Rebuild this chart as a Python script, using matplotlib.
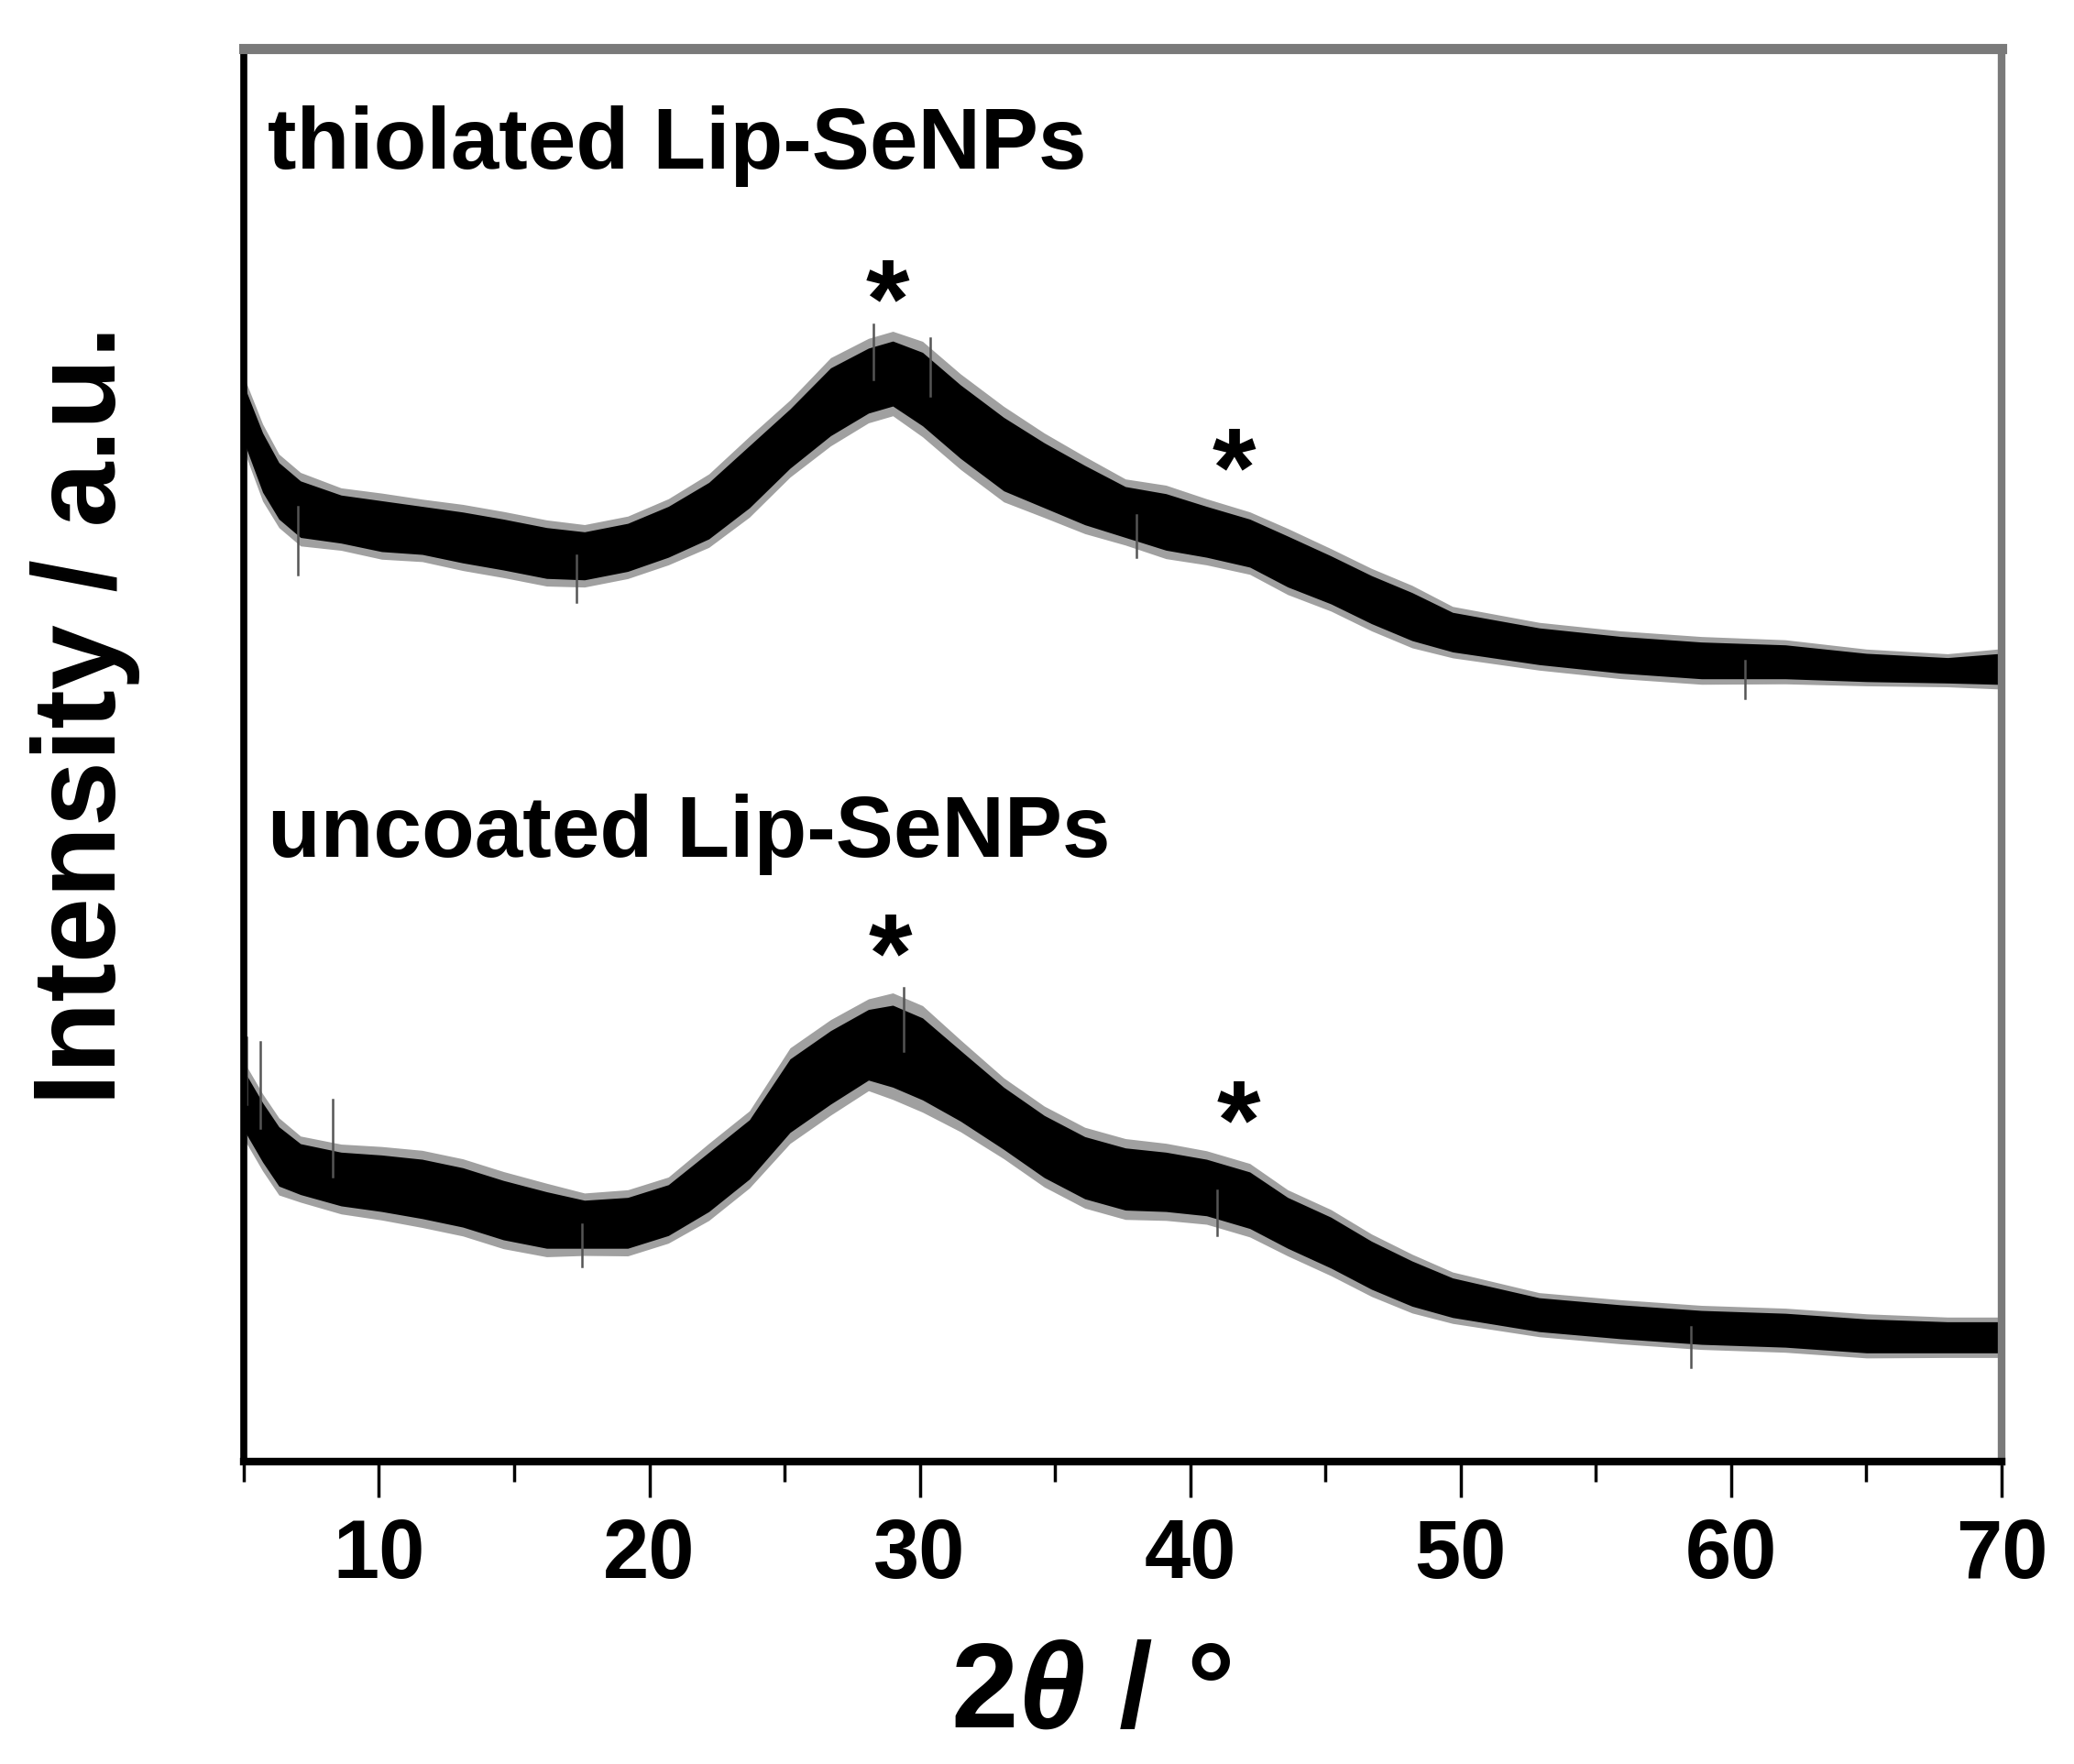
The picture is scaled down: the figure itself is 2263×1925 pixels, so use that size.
import numpy as np
import matplotlib
matplotlib.use('Agg')
import matplotlib.pyplot as plt
from matplotlib.ticker import MultipleLocator

plt.rcParams['font.family'] = ['Liberation Sans', 'DejaVu Sans']
plt.rcParams['font.weight'] = 'bold'
plt.rcParams['mathtext.fontset'] = 'custom'
plt.rcParams['mathtext.it'] = 'Liberation Sans:italic'

# --- data (2theta in degrees, intensity in arbitrary units)
two_theta = [5.0, 5.7, 6.3, 7.1, 8.6, 10.1, 11.6, 13.1, 14.6, 16.2,
             17.6, 19.2, 20.7, 22.2, 23.7, 25.2, 26.7, 28.1, 29.0, 30.1,
             31.5, 33.1, 34.6, 36.1, 37.6, 39.1, 40.6, 42.2, 43.6, 45.2,
             46.7, 48.2, 49.7, 52.9, 55.9, 58.9, 62.0, 65.0, 68.0, 70.0]

thiolated = [742, 707, 687, 674, 667, 662, 659, 654, 649, 643,
             641, 647, 658, 673, 697, 724, 750, 765, 770, 759,
             736, 713, 698, 684, 672, 665, 658, 650, 637, 624,
             610, 598, 587, 577, 571, 567, 566, 562, 560, 561]
thiolated_noise = [20, 21, 20, 20, 17, 18, 17, 18, 18, 18,
                   17, 17, 18, 20, 22, 21, 24, 23, 23, 26,
                   26, 26, 23, 21, 18, 20, 18, 17, 18, 17,
                   17, 17, 14, 13, 13, 13, 12, 10, 9, 11]

uncoated = [256, 233, 216, 207, 200, 197, 193, 187, 178, 171,
            168, 169, 178, 198, 221, 259, 279, 295, 294, 285,
            266, 243, 223, 208, 200, 198, 194, 185, 169, 155,
            139, 126, 116, 104, 99, 95, 93, 89, 88, 88]
uncoated_noise = [21, 21, 21, 18, 19, 20, 21, 21, 21, 20,
                  17, 18, 18, 21, 21, 26, 26, 25, 29, 29,
                  25, 22, 22, 22, 22, 21, 20, 20, 18, 18,
                  17, 16, 14, 12, 12, 12, 12, 12, 11, 11]

# single spikes sticking out of the noise band (2theta, tip intensity)
thiolated_spikes = [(5.05, 775), (7.0, 628), (17.3, 608), (28.3, 805),
                    (30.4, 795), (38.0, 640), (60.5, 540)]
uncoated_spikes = [(5.1, 300), (5.6, 297), (8.3, 256), (17.5, 138),
                   (29.4, 335), (41.0, 160), (58.5, 67)]

labels = ['thiolated Lip-SeNPs', 'uncoated Lip-SeNPs']
label_pos = [(5.9, 915), (5.9, 428)]
stars = [(28.8, 842), (41.6, 723), (28.9, 379), (41.8, 261)]

# --- figure
fig = plt.figure(figsize=(22.63, 19.25), dpi=100)
ax = fig.add_axes([0.1175, 0.1714, 0.8476, 0.8011])

x = np.array(two_theta)
series = [(thiolated, thiolated_noise, thiolated_spikes),
          (uncoated, uncoated_noise, uncoated_spikes)]
for y, n, spikes in series:
    y = np.array(y)
    n = np.array(n)
    ax.fill_between(x, y - 1.3 * n, y + 1.3 * n, color='#a0a0a0', lw=0)
    ax.fill_between(x, y - n, y + n, color='black', lw=0)
    for sx, tip in spikes:
        base = np.interp(sx, x, y)
        ax.plot([sx, sx], [base, tip], color='#555555', lw=1.8)

for (tx, ty), lab in zip(label_pos, labels):
    ax.text(tx, ty, lab, fontsize=68, fontweight='bold', va='baseline', ha='left')

for sx, sy in stars:
    ax.text(sx, sy - 46, '*', fontsize=88, fontweight='bold', va='baseline', ha='center')

ax.set_xlim(5, 70)
ax.set_ylim(0, 1000)
ax.set_yticks([])
ax.xaxis.set_major_locator(MultipleLocator(10))
ax.xaxis.set_minor_locator(MultipleLocator(5))
ax.tick_params(axis='x', which='major', direction='out', length=28, width=2.5,
               labelsize=65, pad=16)
ax.tick_params(axis='x', which='minor', direction='out', length=16, width=2.5)
for lab in ax.get_xticklabels():
    lab.set_fontweight('bold')

ax.spines['left'].set_linewidth(5.5)
ax.spines['bottom'].set_linewidth(6)
ax.spines['top'].set_linewidth(8)
ax.spines['right'].set_linewidth(6)
ax.spines['top'].set_color('#7a7a7a')
ax.spines['right'].set_color('#7a7a7a')

ax.set_xlabel(r'2$\theta$ / °', fontsize=95, fontweight='bold', labelpad=34)
ax.xaxis.label.set_x(0.482)
fig.text(93 / 2263, 1 - 780 / 1925, 'Intensity / a.u.', fontsize=92,
         fontweight='bold', rotation=90, ha='center', va='center')

fig.savefig('out.png', dpi=100)
